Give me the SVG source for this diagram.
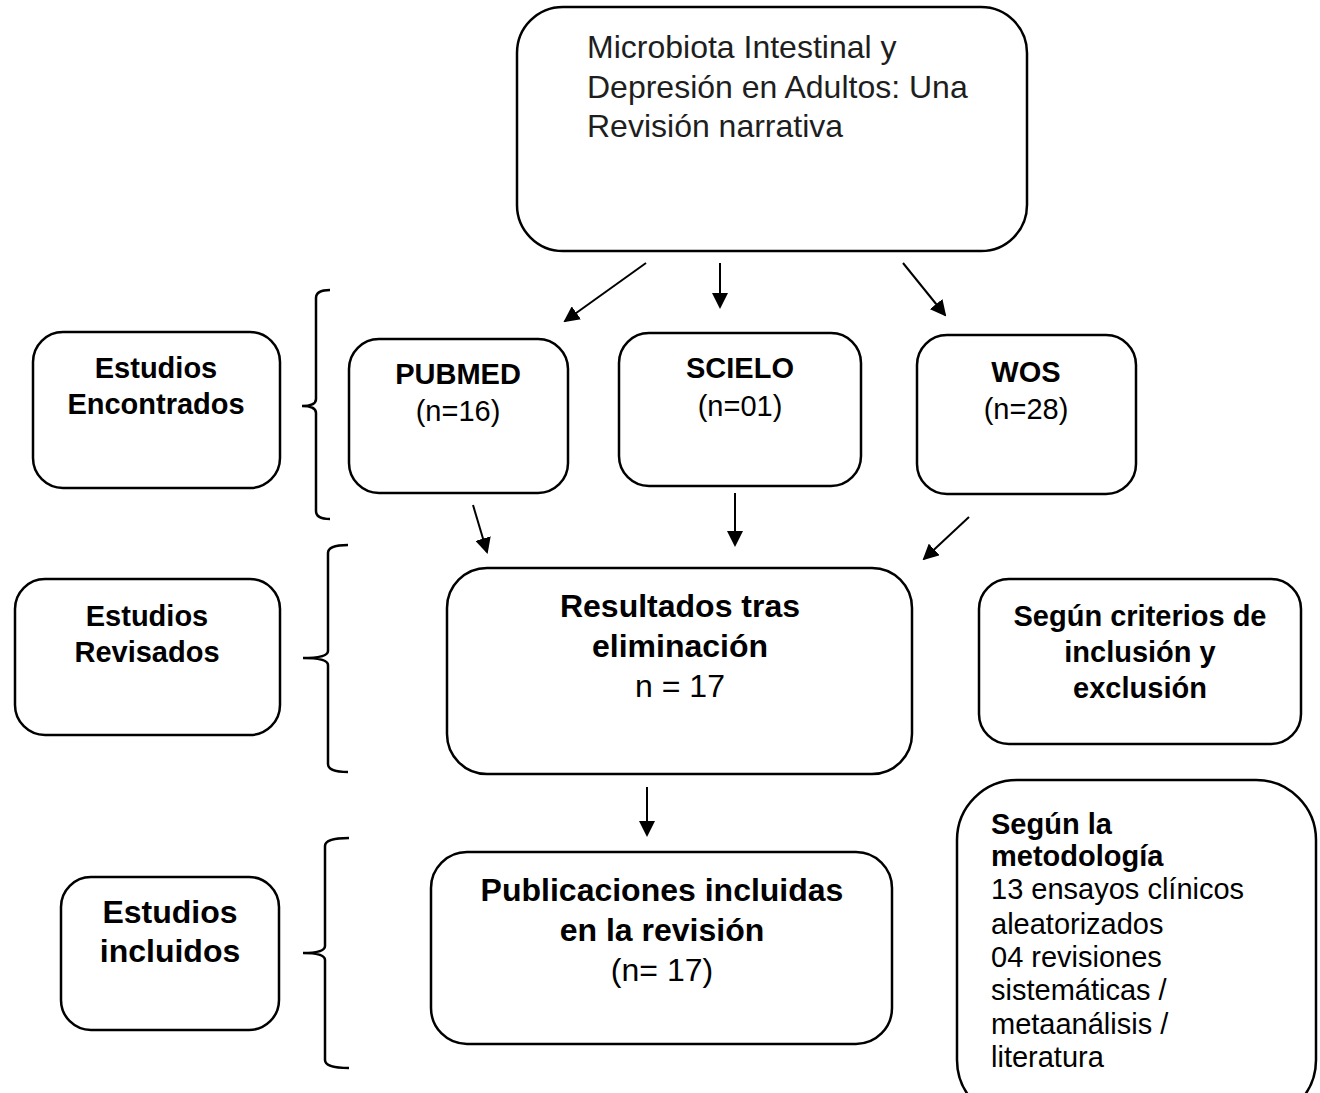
<svg xmlns="http://www.w3.org/2000/svg" width="1320" height="1093" viewBox="0 0 1320 1093">
<defs>
<marker id="ah" markerWidth="8" markerHeight="8" refX="7" refY="4" orient="auto" markerUnits="strokeWidth">
<path d="M0,0 L8,4 L0,8 z" fill="#000"/>
</marker>
<style>
.box{fill:#fff;stroke:#000;stroke-width:2.5}
.b{font-family:"Liberation Sans",Arial,sans-serif;font-weight:bold;font-size:29px;fill:#000;text-anchor:middle}
.r{font-family:"Liberation Sans",Arial,sans-serif;font-size:29px;fill:#000;text-anchor:middle}
.big{font-size:32px}
.t{font-family:"Liberation Sans",Arial,sans-serif;font-size:32px;fill:#1e1e1e}
.l{text-anchor:start}
.conn{stroke:#000;stroke-width:2;fill:none;marker-end:url(#ah)}
.brace{stroke:#000;stroke-width:2.5;fill:none}
</style>
</defs>
<rect width="1320" height="1093" fill="#fff"/>

<g id="title">
<rect class="box" x="517" y="7" width="510" height="244" rx="46"/>
<text class="t" x="587" y="58">Microbiota Intestinal y</text>
<text class="t" x="587" y="98">Depresión en Adultos: Una</text>
<text class="t" x="587" y="137">Revisión narrativa</text>
</g>

<g id="estudios-encontrados">
<rect class="box" x="33" y="332" width="247" height="156" rx="30"/>
<text class="b" x="156" y="378">Estudios</text>
<text class="b" x="156" y="414">Encontrados</text>
</g>

<g id="pubmed">
<rect class="box" x="349" y="339" width="219" height="154" rx="30"/>
<text class="b" x="458" y="384">PUBMED</text>
<text class="r" x="458" y="421">(n=16)</text>
</g>

<g id="scielo">
<rect class="box" x="619" y="333" width="242" height="153" rx="30"/>
<text class="b" x="740" y="378">SCIELO</text>
<text class="r" x="740" y="416">(n=01)</text>
</g>

<g id="wos">
<rect class="box" x="917" y="335" width="219" height="159" rx="30"/>
<text class="b" x="1026" y="382">WOS</text>
<text class="r" x="1026" y="419">(n=28)</text>
</g>

<g id="estudios-revisados">
<rect class="box" x="15" y="579" width="265" height="156" rx="30"/>
<text class="b" x="147" y="626">Estudios</text>
<text class="b" x="147" y="662">Revisados</text>
</g>

<g id="resultados">
<rect class="box" x="447" y="568" width="465" height="206" rx="40"/>
<text class="b big" x="680" y="617">Resultados tras</text>
<text class="b big" x="680" y="657">eliminación</text>
<text class="r big" x="680" y="697">n = 17</text>
</g>

<g id="criterios">
<rect class="box" x="979" y="579" width="322" height="165" rx="30"/>
<text class="b" x="1140" y="626">Según criterios de</text>
<text class="b" x="1140" y="662">inclusión y</text>
<text class="b" x="1140" y="698">exclusión</text>
</g>

<g id="estudios-incluidos">
<rect class="box" x="61" y="877" width="218" height="153" rx="30"/>
<text class="b big" x="170" y="923">Estudios</text>
<text class="b big" x="170" y="962">incluidos</text>
</g>

<g id="publicaciones">
<rect class="box" x="431" y="852" width="461" height="192" rx="36"/>
<text class="b big" x="662" y="901">Publicaciones incluidas</text>
<text class="b big" x="662" y="941">en la revisión</text>
<text class="r big" x="662" y="981">(n= 17)</text>
</g>

<g id="metodologia">
<rect class="box" x="957" y="780" width="359" height="340" rx="60"/>
<text class="b l" x="991" y="834">Según la</text>
<text class="b l" x="991" y="866">metodología</text>
<text class="r l" x="991" y="899">13 ensayos clínicos</text>
<text class="r l" x="991" y="934">aleatorizados</text>
<text class="r l" x="991" y="967">04 revisiones</text>
<text class="r l" x="991" y="1000">sistemáticas /</text>
<text class="r l" x="991" y="1034">metaanálisis /</text>
<text class="r l" x="991" y="1067">literatura</text>
</g>

<g id="connectors">
<line class="conn" x1="646" y1="263" x2="565" y2="321"/>
<line class="conn" x1="720" y1="263" x2="720" y2="307"/>
<line class="conn" x1="903" y1="263" x2="945" y2="315"/>
<line class="conn" x1="473" y1="505" x2="487" y2="552"/>
<line class="conn" x1="735" y1="493" x2="735" y2="545"/>
<line class="conn" x1="969" y1="517" x2="924" y2="559"/>
<line class="conn" x1="647" y1="787" x2="647" y2="835"/>
</g>

<g id="braces">
<path class="brace" d="M330,290 Q316,290 316,298 L316,399 Q316,406 302,406 Q316,406 316,413 L316,511 Q316,519 330,519"/>
<path class="brace" d="M348,545 Q328,545 328,553 L328,651 Q328,658 303,658 Q328,658 328,665 L328,764 Q328,772 348,772"/>
<path class="brace" d="M349,838 Q325,838 325,846 L325,946 Q325,953 303,953 Q325,953 325,960 L325,1060 Q325,1068 349,1068"/>
</g>
</svg>
